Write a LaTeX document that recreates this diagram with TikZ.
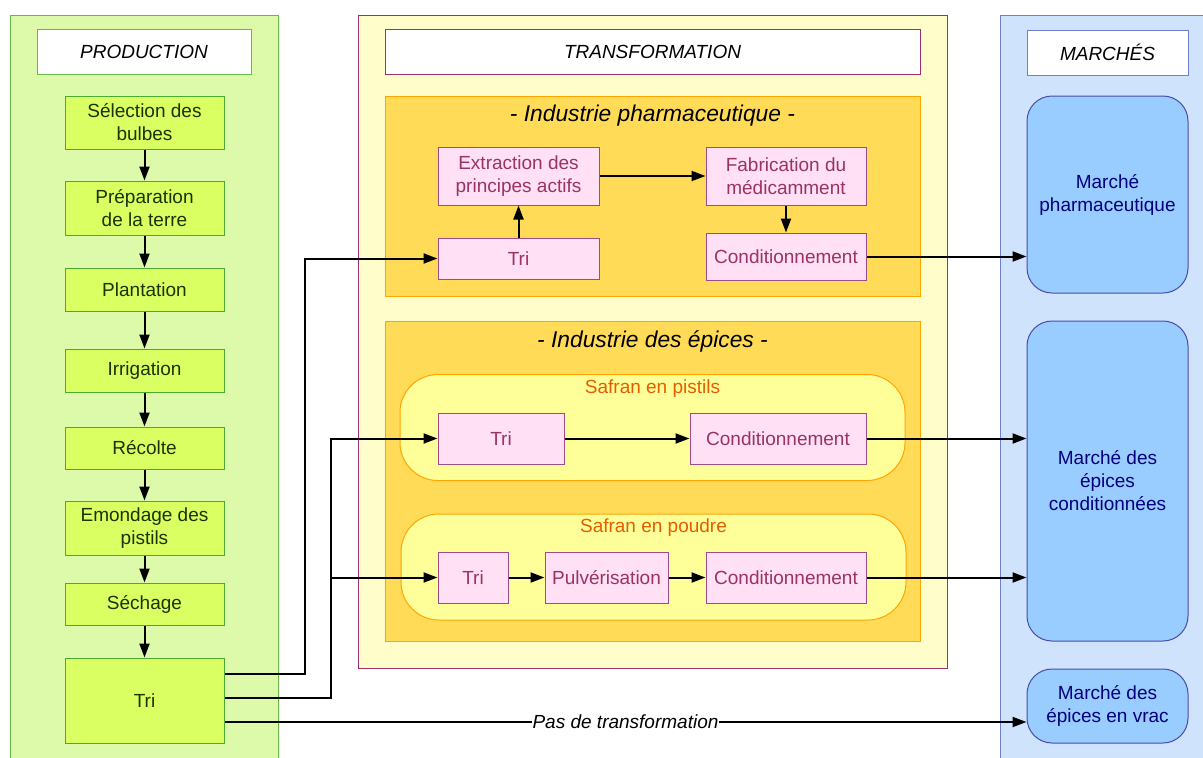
\documentclass[tikz,border=0pt]{standalone}
\usepackage{fontspec}
\setmainfont{Liberation Sans}
\usetikzlibrary{arrows.meta,calc}
\definecolor{prodbg}{HTML}{DDFAAA}
\definecolor{prodbd}{HTML}{66BB44}
\definecolor{prodfill}{HTML}{D9FF62}
\definecolor{prodnbd}{HTML}{4CAA30}
\definecolor{prodtxt}{HTML}{1A3300}
\definecolor{transbg}{HTML}{FFFDCA}
\definecolor{transbd}{HTML}{A0306A}
\definecolor{indfill}{HTML}{FFDB58}
\definecolor{indbd}{HTML}{FFA500}
\definecolor{saffill}{HTML}{FFFF99}
\definecolor{saftxt}{HTML}{E65C00}
\definecolor{pinkfill}{HTML}{FFE0F4}
\definecolor{pinkbd}{HTML}{A04A8A}
\definecolor{pinktxt}{HTML}{993366}
\definecolor{markbg}{HTML}{CFE4FC}
\definecolor{markbd}{HTML}{7080D0}
\definecolor{markfill}{HTML}{99CCFF}
\definecolor{marknbd}{HTML}{4A4AAA}
\definecolor{marktxt}{HTML}{00007F}
\tikzset{
  basefont/.style={font=\fontsize{19}{23}\selectfont},
  colbox/.style={draw, line width=1pt},
  header/.style={draw, fill=white, line width=1pt, inner sep=0pt, font=\fontsize{19}{23}\selectfont\itshape},
  prodstep/.style={draw=prodnbd, fill=prodfill, line width=1pt, text=prodtxt, align=center, inner sep=0pt, minimum width=159pt, basefont},
  transstep/.style={draw=pinkbd, fill=pinkfill, line width=1pt, text=pinktxt, align=center, inner sep=0pt, basefont},
  indbox/.style={draw=indbd, fill=indfill, line width=1pt, inner sep=0pt, minimum width=535pt},
  safbox/.style={draw=indbd, fill=saffill, line width=1pt, rounded corners=38pt, inner sep=0pt, minimum width=505pt, minimum height=106pt},
  indtitle/.style={font=\fontsize{22.8}{26}\selectfont\itshape, inner sep=0pt},
  saftitle/.style={text=saftxt, basefont, inner sep=0pt},
  market/.style={draw=marknbd, fill=markfill, line width=1pt, rounded corners=25pt, text=marktxt, align=center, inner sep=0pt, minimum width=161pt, basefont},
  arr/.style={line width=2pt, -{Triangle[length=14pt,width=10pt]}},
  conn/.style={line width=2pt}
}
\begin{document}
\begin{tikzpicture}[x=1pt,y=-1pt]
\useasboundingbox (0,0) rectangle (1203,758);
% columns
\draw[colbox, draw=prodbd, fill=prodbg] (10,15) rectangle (278,790);
\draw[colbox, draw=transbd, fill=transbg] (358,15) rectangle (947,668);
\draw[colbox, draw=markbd, fill=markbg] (1000,15) rectangle (1230,790);
% headers
\node[header, draw=prodbd, minimum width=214pt, minimum height=45pt] (hprod) at (144,51.5) {PRODUCTION};
\node[header, draw=transbd, minimum width=535pt, minimum height=45pt] (htrans) at (652.5,51.5) {TRANSFORMATION};
\node[header, draw=markbd, minimum width=161pt, minimum height=45pt] (hmark) at (1107.5,52.5) {MARCHÉS};
% production
\node[prodstep, minimum height=53pt] (sel) at (144.5,122.5) {Sélection des\\bulbes};
\node[prodstep, minimum height=54pt] (prep) at (144.5,208) {Préparation\\de la terre};
\node[prodstep, minimum height=43pt] (plant) at (144.5,289.5) {Plantation};
\node[prodstep, minimum height=43pt] (irr) at (144.5,370.5) {Irrigation};
\node[prodstep, minimum height=42pt] (rec) at (144.5,448) {Récolte};
\node[prodstep, minimum height=54pt] (emon) at (144.5,528) {Emondage des\\pistils};
\node[prodstep, minimum height=42pt] (sech) at (144.5,604) {Séchage};
\node[prodstep, minimum height=85pt] (tri) at (144.5,700.5) {Tri};
\foreach \a/\b in {sel/prep,prep/plant,plant/irr,irr/rec,rec/emon,emon/sech,sech/tri}
  \draw[arr] (\a) -- (\b);
% pharma industry
\node[indbox, minimum height=200pt] (pharma) at (652.5,196) {};
\node[indtitle] (tpharma) at (652.5,116) {- Industrie pharmaceutique -};
\node[transstep, minimum width=161pt, minimum height=58pt] (ext) at (518.5,176) {Extraction des\\principes actifs};
\node[transstep, minimum width=160pt, minimum height=58pt] (fab) at (786,176) {Fabrication du\\médicamment};
\node[transstep, minimum width=161pt, minimum height=41pt] (ptri) at (518.5,258.5) {Tri};
\node[transstep, minimum width=160pt, minimum height=47pt] (pcond) at (786,256.5) {Conditionnement};
\draw[arr] (ptri) -- (ext);
\draw[arr] (ext) -- (fab);
\draw[arr] (fab) -- (pcond);
% spice industry
\node[indbox, minimum height=320pt] (spice) at (652.5,481) {};
\node[indtitle] (tspice) at (652.5,341) {- Industrie des épices -};
\node[safbox] (pist) at (652.5,427.5) {};
\node[saftitle] (tpist) at (652.5,389) {Safran en pistils};
\node[safbox] (poud) at (653.5,567) {};
\node[saftitle] (tpoud) at (653.5,528) {Safran en poudre};
\node[transstep, minimum width=126pt, minimum height=51pt] (stri1) at (501,438.5) {Tri};
\node[transstep, minimum width=176pt, minimum height=51pt] (scond1) at (778,438.5) {Conditionnement};
\node[transstep, minimum width=70pt, minimum height=51pt] (stri2) at (473,577.5) {Tri};
\node[transstep, minimum width=123pt, minimum height=51pt] (pulv) at (606.5,577.5) {Pulvérisation};
\node[transstep, minimum width=160pt, minimum height=51pt] (scond2) at (786,577.5) {Conditionnement};
\draw[arr] (stri1) -- (scond1);
\draw[arr] (stri2) -- (pulv);
\draw[arr] (pulv) -- (scond2);
% markets
\node[market, minimum height=197pt] (mpharma) at (1107.5,194.5) {Marché\\pharmaceutique};
\node[market, minimum height=320pt] (mepices) at (1107.5,481) {Marché des\\épices\\conditionnées};
\node[market, minimum height=74pt] (mvrac) at (1107.5,706) {Marché des\\épices en vrac};
% connectors from production
\coordinate (j1) at (305,0);
\coordinate (j2) at (330.5,0);
\coordinate (t1) at ($(tri.east)+(0,-26.5)$);
\coordinate (t2) at ($(tri.east)+(0,-2.5)$);
\coordinate (t3) at ($(tri.east)+(0,21.5)$);
\draw[arr] (t1) -- (t1 -| j1) -- (j1 |- ptri.west) -- (ptri.west);
\draw[arr] (t2) -- (t2 -| j2) -- (j2 |- stri1.west) -- (stri1.west);
\draw[arr] (j2 |- stri2.west) -- (stri2.west);
\draw[arr] (t3) -- (t3 -| mvrac.west) node[midway, fill=white, inner xsep=0.5pt, inner ysep=1pt, font=\fontsize{19}{23}\selectfont\itshape] (lbl) {Pas de transformation};
% connectors to markets
\draw[arr] (pcond.east) -- (pcond.east -| mpharma.west);
\draw[arr] (scond1.east) -- (scond1.east -| mepices.west);
\draw[arr] (scond2.east) -- (scond2.east -| mepices.west);
\end{tikzpicture}
\end{document}
